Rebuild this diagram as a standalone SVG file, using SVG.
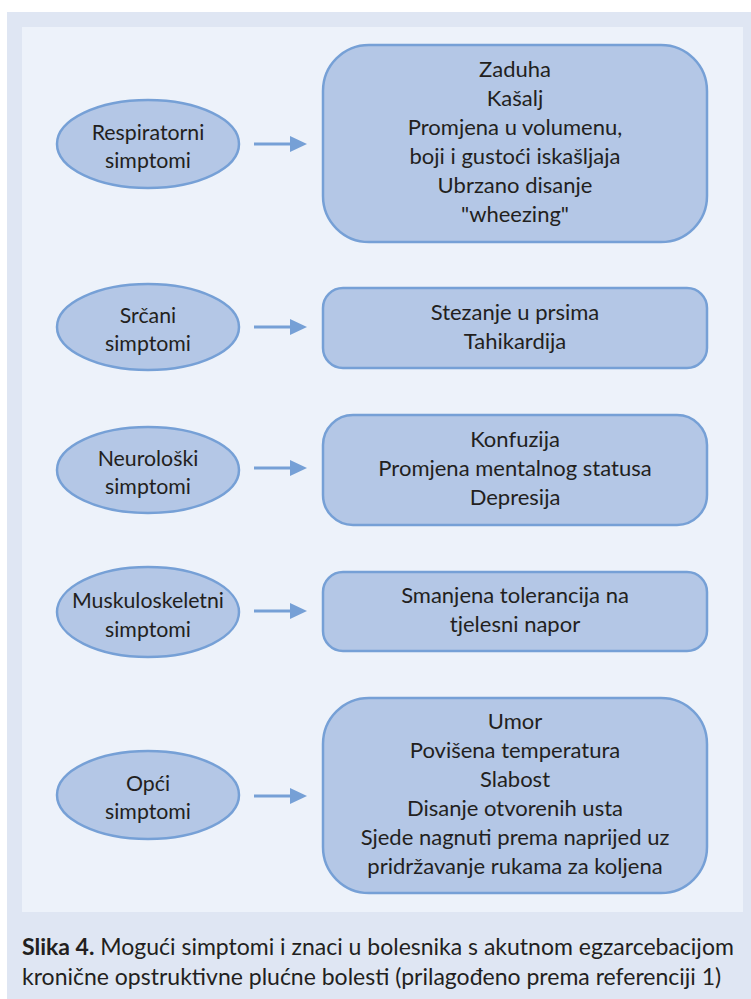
<svg xmlns="http://www.w3.org/2000/svg" width="751" height="999" viewBox="0 0 751 999">
<style>
.ell{fill:#b4c7e6;stroke:#76a0d6;stroke-width:2.5}
.box{fill:#b4c7e6;stroke:#76a0d6;stroke-width:2.5}
.t{font-family:Lato,"Noto Sans",sans-serif;font-size:22px;fill:#231f20;text-anchor:middle}
.o{font-size:21.3px}
.cap{font-family:Lato,"Noto Sans",sans-serif;font-size:23px;fill:#231f20}
.conn line{stroke:#76a0d6;stroke-width:3}
.conn path{fill:#76a0d6}
</style>
<rect x="7" y="12" width="744" height="987" fill="#dfe6f3"/>
<rect x="22" y="27" width="721" height="885" fill="#edf2fa"/>

<g id="resp-oval"><ellipse class="ell" cx="148" cy="144" rx="91" ry="44"/>
<text class="t o" x="148" y="139.5">Respiratorni</text><text class="t o" x="148" y="168">simptomi</text></g>
<g id="resp-box"><rect class="box" x="323" y="45" width="384" height="197" rx="46"/>
<text class="t" x="515" y="77">Zaduha</text><text class="t" x="515" y="106">Kašalj</text><text class="t" x="515" y="135">Promjena u volumenu,</text><text class="t" x="515" y="164">boji i gustoći iskašljaja</text><text class="t" x="515" y="193">Ubrzano disanje</text><text class="t" x="515" y="222">"wheezing"</text></g>

<g id="src-oval"><ellipse class="ell" cx="148" cy="327" rx="91" ry="43"/>
<text class="t o" x="148" y="322.5">Srčani</text><text class="t o" x="148" y="351">simptomi</text></g>
<g id="src-box"><rect class="box" x="323" y="288" width="384" height="80" rx="20"/>
<text class="t" x="515" y="320">Stezanje u prsima</text><text class="t" x="515" y="349">Tahikardija</text></g>

<g id="neu-oval"><ellipse class="ell" cx="148" cy="470" rx="91" ry="43"/>
<text class="t o" x="148" y="465.5">Neurološki</text><text class="t o" x="148" y="494">simptomi</text></g>
<g id="neu-box"><rect class="box" x="323" y="415" width="384" height="110" rx="30"/>
<text class="t" x="515" y="447">Konfuzija</text><text class="t" x="515" y="476">Promjena mentalnog statusa</text><text class="t" x="515" y="504.5">Depresija</text></g>

<g id="mus-oval"><ellipse class="ell" cx="148" cy="612" rx="91" ry="45"/>
<text class="t o" x="148" y="608">Muskuloskeletni</text><text class="t o" x="148" y="636.5">simptomi</text></g>
<g id="mus-box"><rect class="box" x="323" y="572" width="384" height="79" rx="20"/>
<text class="t" x="515" y="603">Smanjena tolerancija na</text><text class="t" x="515" y="632">tjelesni napor</text></g>

<g id="opc-oval"><ellipse class="ell" cx="148" cy="795" rx="91" ry="44"/>
<text class="t o" x="148" y="790.5">Opći</text><text class="t o" x="148" y="819">simptomi</text></g>
<g id="opc-box"><rect class="box" x="323" y="698" width="384" height="195" rx="46"/>
<text class="t" x="515" y="728.5">Umor</text><text class="t" x="515" y="757.5">Povišena temperatura</text><text class="t" x="515" y="786.5">Slabost</text><text class="t" x="515" y="815.5">Disanje otvorenih usta</text><text class="t" x="515" y="844.5">Sjede nagnuti prema naprijed uz</text><text class="t" x="515" y="873.5">pridržavanje rukama za koljena</text></g>

<g id="connectors" class="conn">
<line x1="254" y1="144" x2="292" y2="144"/><path d="M290 136 L307 144 L290 152 Z"/>
<line x1="254" y1="327" x2="292" y2="327"/><path d="M290 319 L307 327 L290 335 Z"/>
<line x1="254" y1="468" x2="292" y2="468"/><path d="M290 460 L307 468 L290 476 Z"/>
<line x1="254" y1="611" x2="292" y2="611"/><path d="M290 603 L307 611 L290 619 Z"/>
<line x1="254" y1="796" x2="292" y2="796"/><path d="M290 788 L307 796 L290 804 Z"/>
</g>

<text class="cap" x="22" y="955"><tspan font-weight="bold">Slika 4.</tspan> Mogući simptomi i znaci u bolesnika s akutnom egzarcebacijom</text>
<text class="cap" x="22" y="985">kronične opstruktivne plućne bolesti (prilagođeno prema referenciji 1)</text>
</svg>
